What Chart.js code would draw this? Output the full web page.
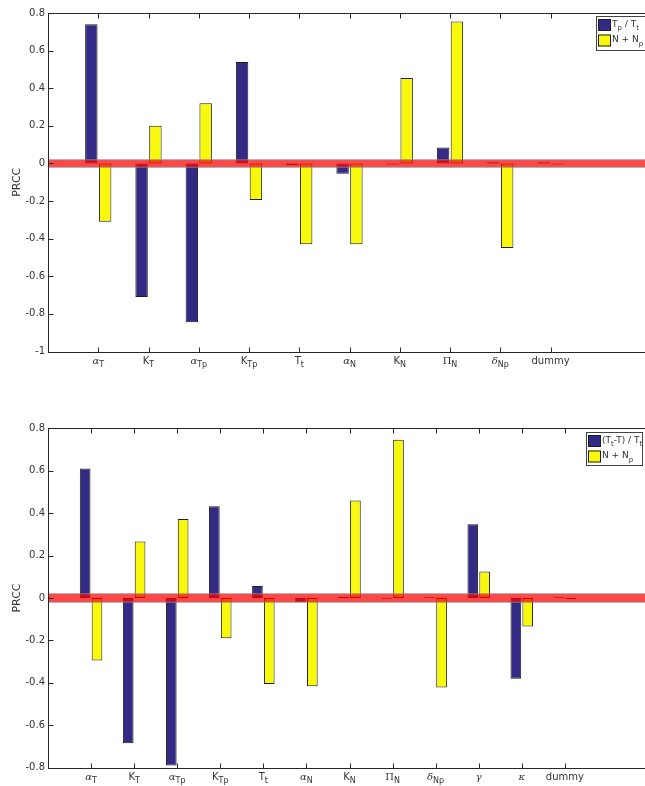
<!DOCTYPE html>
<html>
<head>
<meta charset="utf-8">
<script src="https://cdn.jsdelivr.net/npm/chart.js@4.4.1/dist/chart.umd.min.js"></script>
<style>
  html, body { margin: 0; padding: 0; background: #fff; width: 645px; height: 786px; overflow: hidden; }
  .wrap { position: absolute; left: 0; width: 700px; height: 400px; }
</style>
</head>
<body>
<div class="wrap" style="top:0"><canvas id="topChart"></canvas></div>
<div class="wrap" style="top:415px"><canvas id="bottomChart"></canvas></div>
<script>
// categories ("_" = subscript, {} groups it)
const topCats = ['α_T', 'K_T', 'α_{Tp}', 'K_{Tp}', 'T_t', 'α_N', 'K_N', 'Π_N', 'δ_{Np}', 'dummy'];
const topTpTt = [0.74, -0.71, -0.845, 0.54, -0.01, -0.055, -0.005, 0.085, 0.006, 0.006];
const topNNp  = [-0.31, 0.20, 0.32, -0.195, -0.43, -0.43, 0.455, 0.755, -0.45, -0.005];
const topLegend = ['T_p / T_t', 'N + N_p'];

const bottomCats = ['α_T', 'K_T', 'α_{Tp}', 'K_{Tp}', 'T_t', 'α_N', 'K_N', 'Π_N', 'δ_{Np}', 'γ', 'κ', 'dummy'];
const bottomTtT = [0.61, -0.685, -0.79, 0.433, 0.056, -0.02, 0.006, -0.004, 0.004, 0.348, -0.381, 0.004];
const bottomNNp = [-0.295, 0.266, 0.373, -0.19, -0.406, -0.416, 0.46, 0.746, -0.422, 0.125, -0.134, -0.005];
const bottomLegend = ['(T_t-T) / T_t', 'N + N_p'];

const band = 0.02; // half width of the red band round zero

const BLUE = '#332a85';
const YELLOW = '#f8f80c';
const EDGE = '#1e1e1e';
const INK = '#333';

Chart.defaults.font.family = "'DejaVu Sans'";

// tiny TeX-ish parser: T_p, K_{Tp}
function parseTex(s) {
    const out = [];
    let buf = '', i = 0;
    while (i < s.length) {
        if (s[i] === '_') {
            if (buf) { out.push({ t: buf, sub: false }); buf = ''; }
            let sub;
            if (s[i + 1] === '{') {
                const j = s.indexOf('}', i);
                sub = s.slice(i + 2, j);
                i = j + 1;
            } else {
                sub = s[i + 1];
                i += 2;
            }
            out.push({ t: sub, sub: true });
        } else {
            buf += s[i];
            i++;
        }
    }
    if (buf) out.push({ t: buf, sub: false });
    return out;
}

const GREEK = /[\u0370-\u03FF]/;
function runsOf(s) {
    const res = [];
    for (const seg of parseTex(s)) {
        for (const ch of seg.t) {
            const greek = GREEK.test(ch);
            const last = res[res.length - 1];
            if (last && last.sub === seg.sub && last.greek === greek) last.t += ch;
            else res.push({ t: ch, sub: seg.sub, greek });
        }
    }
    return res;
}
function fontOf(r, size) {
    const px = r.sub ? size - 2 : size;
    if (r.greek) return (r.t.includes('Π') ? '' : 'italic ') + px + "px 'DejaVu Serif'";
    return px + "px 'DejaVu Sans'";
}
function drawRich(ctx, s, x, y, align, size) {
    const runs = runsOf(s);
    let w = 0;
    runs.forEach(r => { ctx.font = fontOf(r, size); r.w = ctx.measureText(r.t).width; w += r.w; });
    let cx = align === 'center' ? x - w / 2 : x;
    ctx.textAlign = 'left';
    ctx.textBaseline = 'middle';
    runs.forEach(r => {
        ctx.font = fontOf(r, size);
        ctx.fillText(r.t, cx, r.sub ? y + 4 : y);
        cx += r.w;
    });
}

// MATLAB style box, inward ticks, subscript labels and legend
const boxAxes = {
    id: 'boxAxes',
    afterDraw(chart, args, opts) {
        const { ctx, chartArea: a, scales: { x, y } } = chart;
        const L = Math.round(a.left) + 0.5, R = Math.round(a.right) + 0.5;
        const T = Math.round(a.top) + 0.5, B = Math.round(a.bottom) + 0.5;
        ctx.save();
        ctx.strokeStyle = '#262626';
        ctx.lineWidth = 1;
        ctx.strokeRect(L, T, R - L, B - T);
        ctx.beginPath();
        const labels = chart.data.labels;
        labels.forEach((lab, i) => {
            if (!lab) return;
            const px = Math.round(x.getPixelForValue(i)) + 0.5;
            ctx.moveTo(px, B); ctx.lineTo(px, B - 5);
            ctx.moveTo(px, T); ctx.lineTo(px, T + 5);
        });
        y.ticks.forEach(t => {
            const py = Math.round(y.getPixelForValue(t.value)) + 0.5;
            ctx.moveTo(L, py); ctx.lineTo(L + 5, py);
            ctx.moveTo(R, py); ctx.lineTo(R - 5, py);
        });
        ctx.stroke();

        ctx.fillStyle = INK;
        labels.forEach((lab, i) => {
            if (!lab) return;
            drawRich(ctx, lab, x.getPixelForValue(i), a.bottom + 9.5, 'center', 10);
        });

        // legend
        const lg = opts.legend;
        ctx.fillStyle = '#fff';
        ctx.fillRect(lg.x, lg.y, lg.w, lg.h);
        ctx.strokeStyle = '#444';
        ctx.strokeRect(lg.x + 0.5, lg.y + 0.5, lg.w, lg.h);
        chart.data.datasets.filter(d => d.type !== 'line').forEach((d, k) => {
            const sy = lg.y + 3 + k * 15.5;
            ctx.fillStyle = d.backgroundColor;
            ctx.fillRect(lg.x + 2, sy, 13, 12);
            ctx.strokeStyle = EDGE;
            ctx.strokeRect(lg.x + 2.5, sy + 0.5, 12, 11);
            ctx.fillStyle = INK;
            drawRich(ctx, d.label, lg.x + 16, sy + 5.5, 'left', 9);
        });
        ctx.restore();
    }
};

function buildChart(id, cats, blueVals, yellowVals, legendTexts, yMin, yMax, frame) {
    const labels = ['', ...cats, '', ''];
    const padData = vals => [null, ...vals, null, null];
    const barStyle = {
        borderColor: EDGE,
        borderWidth: 1,
        borderSkipped: false,
        categoryPercentage: 0.55,
        barPercentage: 0.9,
        order: 2
    };
    return new Chart(document.getElementById(id), {
        type: 'bar',
        data: {
            labels: labels,
            datasets: [
                { label: legendTexts[0], data: padData(blueVals), backgroundColor: BLUE, ...barStyle },
                { label: legendTexts[1], data: padData(yellowVals), backgroundColor: YELLOW, ...barStyle },
                {
                    type: 'line', data: labels.map(() => band),
                    borderColor: 'rgba(140,140,140,0.55)', borderWidth: 1.5,
                    pointRadius: 0, fill: false, order: 1
                },
                {
                    type: 'line', data: labels.map(() => -band),
                    borderColor: 'rgba(140,140,140,0.55)', borderWidth: 1.5,
                    pointRadius: 0, fill: '-1', backgroundColor: 'rgba(255,0,0,0.72)', order: 1
                }
            ]
        },
        options: {
            responsive: true,
            maintainAspectRatio: false,
            animation: false,
            layout: { padding: { top: frame.top, right: frame.right, left: 0, bottom: 0 } },
            plugins: {
                legend: { display: false },
                tooltip: { enabled: false },
                boxAxes: { legend: frame.legend }
            },
            scales: {
                x: {
                    offset: false,
                    grid: { display: false, offset: false, drawTicks: false },
                    border: { display: false },
                    ticks: { display: false },
                    afterFit: s => { s.height = frame.xh; }
                },
                y: {
                    min: yMin,
                    max: yMax,
                    ticks: {
                        stepSize: 0.2,
                        padding: 3,
                        color: INK,
                        font: { size: 10 },
                        callback: v => String(Math.round(v * 10) / 10)
                    },
                    grid: { display: false, drawTicks: false },
                    border: { display: false },
                    title: {
                        display: true, text: 'PRCC', color: INK,
                        font: { size: 11 }, padding: { top: 11, bottom: 0 }
                    },
                    afterFit: s => { s.width = 48; }
                }
            }
        },
        plugins: [boxAxes]
    });
}

buildChart('topChart', topCats, topTpTt, topNNp, topLegend, -1, 0.8,
    { top: 13, right: 49, xh: 48.5, legend: { x: 596, y: 16, w: 58, h: 34 } });
buildChart('bottomChart', bottomCats, bottomTtT, bottomNNp, bottomLegend, -0.8, 0.8,
    { top: 13.3, right: 49, xh: 47.3, legend: { x: 586, y: 17, w: 56, h: 33 } });
</script>
</body>
</html>
